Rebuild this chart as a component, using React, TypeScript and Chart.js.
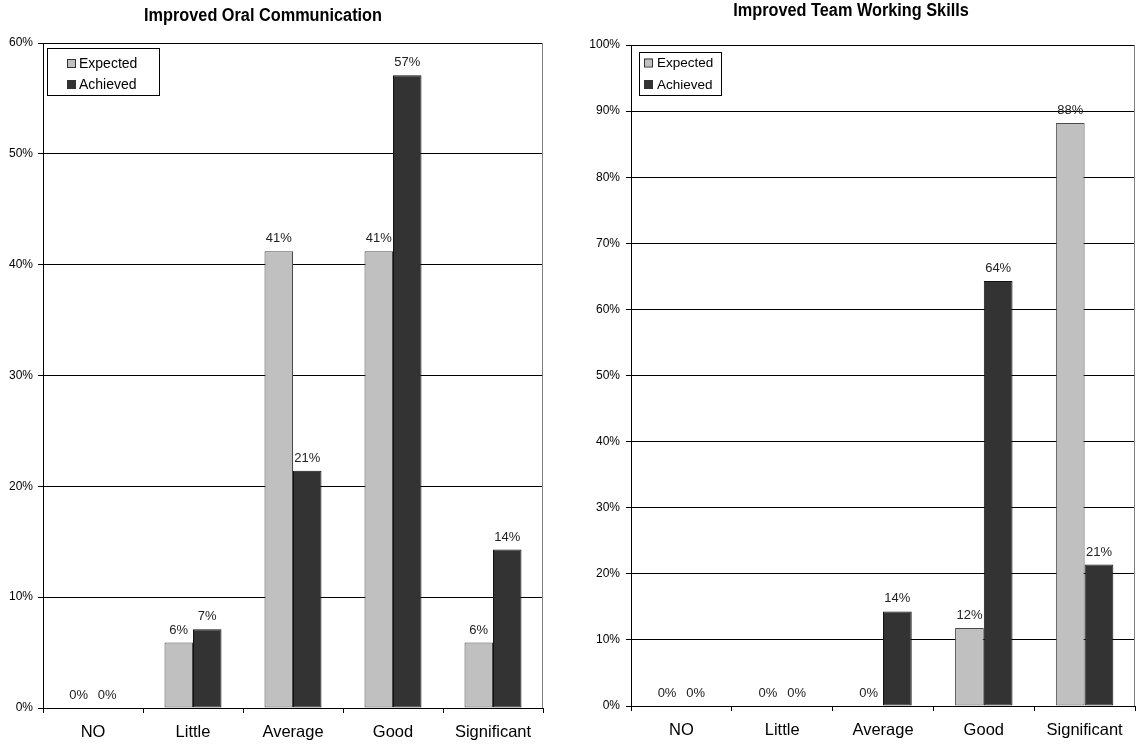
import React, { useEffect, useRef } from "react";
import { Chart, registerables } from "chart.js";

Chart.register(...registerables);

const categories = ["NO", "Little", "Average", "Good", "Significant"];
const seriesNames = ["Expected", "Achieved"];

const oralTitle = "Improved Oral Communication";
const oralExpected = [0, 5.9, 41.2, 41.2, 5.9];
const oralAchieved = [0, 7.1, 21.4, 57.1, 14.3];
const oralMax = 60;

const teamTitle = "Improved Team Working Skills";
const teamExpected = [0, 0, 0, 11.8, 88.2];
const teamAchieved = [0, 0, 14.3, 64.3, 21.4];
const teamMax = 100;

const tickStep = 10;

const FONT = '"Liberation Sans", Arial, Helvetica, sans-serif';
const EXPECTED_FILL = "#c0c0c0";
const EXPECTED_BORDER = "#4a4a4a";
const ACHIEVED_FILL = "#333333";
const ACHIEVED_BORDER = "#111111";

const decor = {
  id: "decor",
  beforeDatasetsDraw(chart: any, _args: any, opts: any) {
    const ctx = chart.ctx;
    const { right, top, bottom } = chart.chartArea;
    ctx.save();
    // right frame line
    ctx.strokeStyle = "#808080";
    ctx.lineWidth = 1;
    ctx.beginPath();
    const rx = Math.round(right) - 0.5;
    ctx.moveTo(rx, top);
    ctx.lineTo(rx, bottom);
    ctx.stroke();
    // value labels (drawn beneath bars, like the original)
    ctx.font = `${opts.labelSize}px ${FONT}`;
    ctx.fillStyle = "#222";
    ctx.textAlign = "center";
    ctx.textBaseline = "alphabetic";
    chart.data.datasets.forEach((ds: any, i: number) => {
      const meta = chart.getDatasetMeta(i);
      meta.data.forEach((el: any, j: number) => {
        const v = ds.data[j];
        ctx.fillText(Math.round(v) + "%", el.x, el.y - opts.labelGap);
      });
    });
    ctx.restore();
  },
  afterDraw(chart: any, _args: any, opts: any) {
    const ctx = chart.ctx;
    ctx.save();
    // title (slightly tall, as in the original)
    ctx.save();
    ctx.translate(opts.titleX, opts.titleY);
    ctx.scale(1, 1.12);
    ctx.font = `bold ${opts.titleSize}px ${FONT}`;
    ctx.fillStyle = "#000";
    ctx.textAlign = "center";
    ctx.textBaseline = "alphabetic";
    ctx.fillText(opts.title, 0, 0);
    ctx.restore();
    // legend box
    const lg = opts.legend;
    ctx.fillStyle = "#fff";
    ctx.fillRect(lg.x, lg.y, lg.w, lg.h);
    ctx.strokeStyle = "#000";
    ctx.lineWidth = 1;
    ctx.strokeRect(lg.x + 0.5, lg.y + 0.5, lg.w, lg.h);
    ctx.font = `${lg.size}px ${FONT}`;
    ctx.textAlign = "left";
    ctx.textBaseline = "middle";
    chart.data.datasets.forEach((ds: any, i: number) => {
      const cy = lg.rows[i];
      ctx.fillStyle = ds.backgroundColor;
      ctx.fillRect(lg.sqX, cy - 4, 8, 8);
      ctx.strokeStyle = "#333";
      ctx.strokeRect(lg.sqX + 0.5, cy - 4 + 0.5, 8, 8);
      ctx.fillStyle = "#000";
      ctx.fillText(ds.label, lg.textX, cy + 1);
    });
    ctx.restore();
  },
};

function buildConfig(p: any) {
  return {
    type: "bar",
    data: {
      labels: categories,
      datasets: [
        {
          label: seriesNames[0],
          data: p.expected,
          backgroundColor: EXPECTED_FILL,
          borderColor: EXPECTED_BORDER,
          borderWidth: 1,
          borderSkipped: false,
          barPercentage: 1,
          categoryPercentage: 0.57,
        },
        {
          label: seriesNames[1],
          data: p.achieved,
          backgroundColor: ACHIEVED_FILL,
          borderColor: ACHIEVED_BORDER,
          borderWidth: 1,
          borderSkipped: false,
          barPercentage: 1,
          categoryPercentage: 0.57,
        },
      ],
    },
    options: {
      responsive: false,
      animation: false,
      devicePixelRatio: 1,
      layout: { padding: { top: p.padTop, right: p.padRight, left: 0, bottom: 0 } },
      plugins: {
        legend: { display: false },
        tooltip: { enabled: false },
        title: { display: false },
        decor: {
          title: p.title,
          titleX: p.titleX,
          titleY: p.titleY,
          titleSize: 16.3,
          labelSize: 13,
          labelGap: 9,
          legend: p.legend,
        },
      },
      scales: {
        x: {
          grid: { drawOnChartArea: false, color: "#000", tickLength: 5, offset: true },
          border: { color: "#000" },
          ticks: { font: { family: FONT, size: 16.5 }, color: "#000", padding: 10 },
          afterFit: (s: any) => {
            s.height = p.xHeight;
          },
        },
        y: {
          min: 0,
          max: p.max,
          grid: { color: "#000", tickLength: 5 },
          border: { color: "#000" },
          ticks: {
            stepSize: tickStep,
            font: { family: FONT, size: 12 },
            color: "#000",
            padding: p.yPad,
            callback: (v: any) => v + "%",
          },
          afterFit: (s: any) => {
            s.width = p.yWidth;
          },
        },
      },
    },
    plugins: [decor],
  };
}

function BarPanel(props: { cfg: any; width: number; height: number; left: number }) {
  const ref = useRef<HTMLCanvasElement | null>(null);
  useEffect(() => {
    if (!ref.current) return;
    const chart = new Chart(ref.current, buildConfig(props.cfg) as any);
    return () => chart.destroy();
  }, []);
  return (
    <canvas
      ref={ref}
      width={props.width}
      height={props.height}
      style={{ position: "absolute", left: props.left, top: 0, width: props.width, height: props.height }}
    />
  );
}

const oralCfg = {
  title: oralTitle,
  expected: oralExpected,
  achieved: oralAchieved,
  max: oralMax,
  titleX: 263,
  titleY: 21,
  padTop: 43,
  padRight: 17,
  xHeight: 38,
  yWidth: 43,
  yPad: 5,
  legend: { x: 47, y: 48, w: 112, h: 47, rows: [63, 84], sqX: 67, textX: 79, size: 14 },
};

const teamCfg = {
  title: teamTitle,
  expected: teamExpected,
  achieved: teamAchieved,
  max: teamMax,
  titleX: 286,
  titleY: 16,
  padTop: 45,
  padRight: 2,
  xHeight: 40,
  yWidth: 66,
  yPad: 6,
  legend: { x: 74, y: 52, w: 82, h: 43, rows: [62.5, 84], sqX: 79, textX: 92, size: 13.5 },
};

export default function App() {
  return (
    <div style={{ position: "absolute", left: 0, top: 0, width: 1137, height: 746, background: "#fff" }}>
      <BarPanel cfg={oralCfg} width={560} height={746} left={0} />
      <BarPanel cfg={teamCfg} width={572} height={746} left={565} />
    </div>
  );
}
